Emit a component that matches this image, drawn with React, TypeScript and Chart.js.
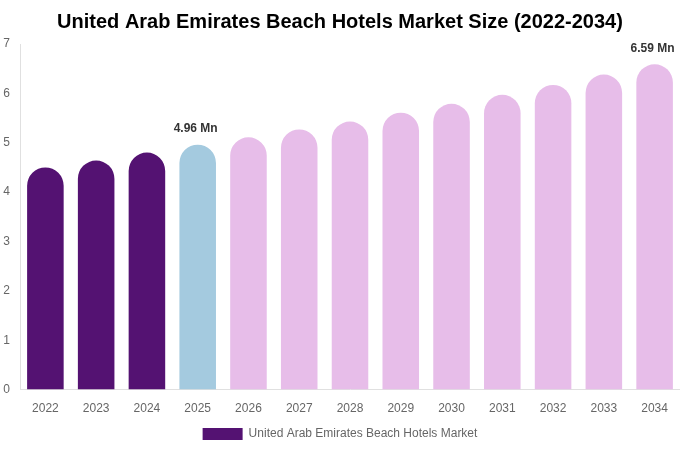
import React, { useEffect, useRef } from "react";
import { Chart, registerables } from "chart.js";

Chart.register(...registerables);

const years = ["2022", "2023", "2024", "2025", "2026", "2027", "2028", "2029", "2030", "2031", "2032", "2033", "2034"];
const marketSize = [4.5, 4.64, 4.8, 4.96, 5.11, 5.27, 5.43, 5.61, 5.79, 5.97, 6.17, 6.38, 6.59];
const labelledYears = ["2025", "2034"];

const pastColor = "#541272";
const currentColor = "#a4cadf";
const forecastColor = "#e7bde9";

const barColors = years.map((y) => (y < "2025" ? pastColor : y === "2025" ? currentColor : forecastColor));

const FONT = "'Liberation Sans', Arial, sans-serif";

const valueLabels = {
    id: "valueLabels",
    afterDatasetsDraw(chart: any) {
        const { ctx } = chart;
        const meta = chart.getDatasetMeta(0);
        ctx.save();
        ctx.font = `bold 12px ${FONT}`;
        ctx.fillStyle = "#333";
        ctx.textBaseline = "bottom";
        ctx.textAlign = "center";
        meta.data.forEach((bar: any, i: number) => {
            if (!labelledYears.includes(years[i])) return;
            const text = `${marketSize[i].toFixed(2)} Mn`;
            const w = ctx.measureText(text).width;
            let x = bar.x - 2;
            const right = chart.width - 5;
            if (x + w / 2 > right) x = right - w / 2;
            ctx.fillText(text, x, bar.y - 10);
        });
        ctx.restore();
    },
};

const App: React.FC = () => {
    const canvasRef = useRef<HTMLCanvasElement | null>(null);

    useEffect(() => {
        if (!canvasRef.current) return;
        const chart = new Chart(canvasRef.current, {
            type: "bar",
            data: {
                labels: years,
                datasets: [
                    {
                        label: "United Arab Emirates Beach Hotels Market",
                        data: marketSize,
                        backgroundColor: barColors,
                        borderRadius: { topLeft: 100, topRight: 100 },
                        borderSkipped: "bottom",
                        barPercentage: 0.72,
                        categoryPercentage: 1,
                    },
                ],
            },
            options: {
                responsive: false,
                animation: false,
                layout: { padding: { top: 0, right: 0, left: 0, bottom: 0 } },
                plugins: {
                    title: {
                        display: true,
                        text: "United Arab Emirates Beach Hotels Market Size (2022-2034)",
                        color: "#000",
                        font: { size: 20, weight: "bold", family: FONT },
                        padding: { top: 10, bottom: 10 },
                    },
                    legend: {
                        position: "bottom",
                        labels: {
                            color: "#666",
                            boxWidth: 40,
                            boxHeight: 12,
                            padding: 8,
                            font: { size: 12, family: FONT },
                            generateLabels: () => [
                                {
                                    text: "United Arab Emirates Beach Hotels Market",
                                    fillStyle: pastColor,
                                    strokeStyle: pastColor,
                                    lineWidth: 0,
                                    fontColor: "#666",
                                    datasetIndex: 0,
                                },
                            ],
                        },
                    },
                    tooltip: { enabled: false },
                },
                scales: {
                    x: {
                        grid: { display: false },
                        border: { display: true, color: "#e0e0e0" },
                        ticks: { color: "#666", font: { size: 12, family: FONT }, padding: 4 },
                    },
                    y: {
                        min: 0,
                        max: 7,
                        grid: { display: false },
                        border: { display: true, color: "#e0e0e0" },
                        ticks: { stepSize: 1, color: "#666", font: { size: 12, family: FONT }, padding: 2 },
                        afterFit: (scale: any) => {
                            scale.width = 20;
                        },
                    },
                },
            },
            plugins: [valueLabels],
        });
        return () => chart.destroy();
    }, []);

    return (
        <div style={{ position: "fixed", left: 0, top: 0, width: 680, height: 450, background: "#fff" }}>
            <canvas ref={canvasRef} width={680} height={450}></canvas>
        </div>
    );
};

export default App;
